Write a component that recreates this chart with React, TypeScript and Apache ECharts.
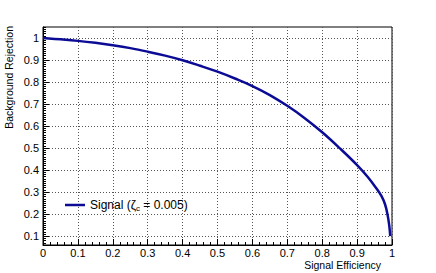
import React, { useEffect, useRef } from "react";
import * as echarts from "echarts";

const efficiency = [0, 0.05, 0.1, 0.15, 0.2, 0.25, 0.3, 0.35, 0.4, 0.45, 0.5, 0.55, 0.6, 0.65, 0.7, 0.75, 0.8, 0.85, 0.9, 0.93, 0.955, 0.97, 0.98, 0.987, 0.992, 0.995];
const rejection = [1.0, 0.994, 0.987, 0.978, 0.967, 0.954, 0.938, 0.92, 0.899, 0.874, 0.847, 0.816, 0.782, 0.741, 0.692, 0.636, 0.572, 0.5, 0.423, 0.37, 0.318, 0.282, 0.245, 0.2, 0.15, 0.1];
const yMajorTicks = [0.1, 0.2, 0.3, 0.4, 0.5, 0.6, 0.7, 0.8, 0.9, 1.0];
const seriesName = "Signal";
const xTitle = "Signal Efficiency";
const yTitle = "Background Rejection";

const FONT = "'Liberation Sans', Arial, Helvetica, sans-serif";

export default function App() {
  const ref = useRef<HTMLDivElement>(null);
  useEffect(() => {
    if (!ref.current) return;
    const chart = echarts.init(ref.current, undefined, { renderer: "svg" });
    const data = efficiency.map((x, i) => [x, rejection[i]]);
    const yMin = 0.06;
    const yMax = 1.05;
    chart.setOption({
      animation: false,
      textStyle: { fontFamily: FONT },
      grid: {
        left: 43, right: 44, top: 27, bottom: 28,
        outerBoundsMode: "none", containLabel: false,
        show: true, borderColor: "#000", borderWidth: 1, backgroundColor: "transparent",
      },
      legend: {
        left: 60, top: 194,
        icon: "rect", itemWidth: 20, itemHeight: 2.5,
        itemGap: 0,
        data: [seriesName],
        formatter: () => "{t|Signal (ζ}{s|c}{t| = 0.005)}",
        textStyle: {
          color: "#000",
          rich: {
            t: { fontSize: 12, fontFamily: FONT, color: "#000" },
            s: { fontSize: 8, fontFamily: FONT, color: "#000", padding: [7, 0, 0, 0] },
          },
        },
      },
      xAxis: {
        type: "value", min: 0, max: 1, interval: 0.1,
        axisLine: { show: true, lineStyle: { color: "#000", width: 1 } },
        axisTick: { show: true, inside: true, length: 6, lineStyle: { color: "#000" } },
        minorTick: { show: true, splitNumber: 5, length: 3, lineStyle: { color: "#000" } },
        axisLabel: { fontSize: 11, color: "#000", margin: 2, fontFamily: FONT },
        splitLine: { show: true, lineStyle: { color: "#555", type: [1, 2], width: 1 } },
      },
      yAxis: [
        {
          type: "value", min: yMin, max: yMax, position: "left",
          axisLine: { show: true, lineStyle: { color: "#000", width: 1 } },
          axisTick: { show: true, inside: true, length: 6, customValues: yMajorTicks, lineStyle: { color: "#000" } },
          axisLabel: { fontSize: 11, color: "#000", margin: 4, customValues: yMajorTicks, fontFamily: FONT },
          splitLine: { show: true, lineStyle: { color: "#555", type: [1, 2], width: 1 } },
        },
        {
          type: "value", min: yMin, max: yMax, interval: 0.01, position: "left", offset: 0,
          axisLine: { show: false },
          axisTick: { show: true, inside: true, length: 3, lineStyle: { color: "#000" } },
          axisLabel: { show: false },
          splitLine: { show: false },
        },
      ],
      graphic: [
        {
          type: "text", x: 8.5, y: 26, rotation: Math.PI / 2,
          style: { text: yTitle, align: "right", verticalAlign: "middle", fontSize: 10.5, fill: "#000", fontFamily: FONT },
        },
        {
          type: "text", x: 381, y: 265,
          style: { text: xTitle, align: "right", verticalAlign: "middle", fontSize: 10.5, fill: "#000", fontFamily: FONT },
        },
      ],
      series: [
        {
          name: seriesName, type: "line", data, yAxisIndex: 0,
          showSymbol: false, smooth: 0.4,
          lineStyle: { color: "#0b0b96", width: 2.5 },
          itemStyle: { color: "#0b0b96" },
        },
      ],
    });
    return () => chart.dispose();
  }, []);
  return <div ref={ref} style={{ width: 436, height: 273, position: "absolute", left: 0, top: 0 }} />;
}
